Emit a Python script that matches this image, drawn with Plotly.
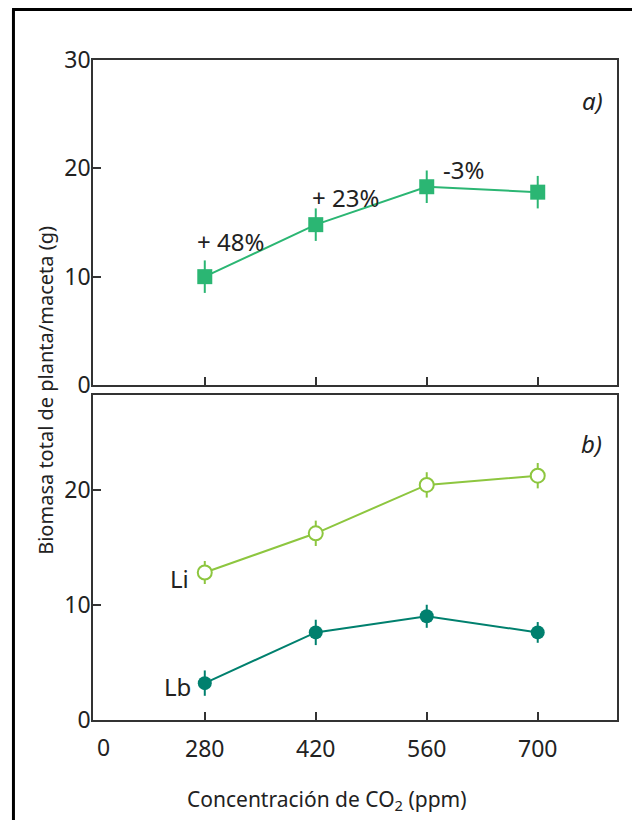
import plotly.graph_objects as go
from plotly.subplots import make_subplots

# ---- data ----
co2 = [280, 420, 560, 700]
x_ticklabels = ["280", "420", "560", "700"]

biomass_a = [10.0, 14.8, 18.3, 17.8]
err_a = [1.5, 1.5, 1.5, 1.5]
pct_labels = ["+ 48%", "+ 23%", "-3%"]
pct_x = [312, 457, 606]
pct_y = [13.2, 17.3, 19.9]

li = [12.8, 16.2, 20.4, 21.2]
li_err = [1.0, 1.1, 1.1, 1.1]
lb = [3.2, 7.6, 9.0, 7.6]
lb_err = [1.1, 1.1, 1.0, 0.9]

y_ticks_a = [0, 10, 20, 30]
y_ticks_b = [0, 10, 20]

c_a = "#2BB673"
c_li = "#8DC63F"
c_lb = "#00806E"
axis_c = "#333333"
txt_c = "#222222"
FONT = "Noto Sans"

fig = make_subplots(rows=2, cols=1, shared_xaxes=False, vertical_spacing=0.0152)

fig.add_trace(go.Scatter(
    x=co2, y=biomass_a, mode="lines+markers",
    line=dict(color=c_a, width=2),
    marker=dict(symbol="square", size=15, color=c_a),
    error_y=dict(type="data", array=err_a, color=c_a, thickness=2, width=0),
    showlegend=False), row=1, col=1)

fig.add_trace(go.Scatter(
    x=co2, y=li, mode="lines+markers",
    line=dict(color=c_li, width=2),
    marker=dict(symbol="circle", size=14, color="white", line=dict(color=c_li, width=2)),
    error_y=dict(type="data", array=li_err, color=c_li, thickness=2, width=0),
    showlegend=False), row=2, col=1)

fig.add_trace(go.Scatter(
    x=co2, y=lb, mode="lines+markers",
    line=dict(color=c_lb, width=2),
    marker=dict(symbol="circle", size=14, color=c_lb),
    error_y=dict(type="data", array=lb_err, color=c_lb, thickness=2, width=0),
    showlegend=False), row=2, col=1)

axis_common = dict(showline=True, linecolor=axis_c, linewidth=1.5, mirror=True,
                   ticks="inside", ticklen=8, tickwidth=1.5, tickcolor=axis_c,
                   showgrid=False, zeroline=False,
                   tickfont=dict(family=FONT, size=23, color=txt_c))

fig.update_xaxes(range=[139, 800], tickvals=co2, ticktext=x_ticklabels,
                 ticklabelstandoff=8, **axis_common)
fig.update_xaxes(showticklabels=False, row=1, col=1)
fig.update_yaxes(range=[0, 30], tickvals=y_ticks_a, ticklabelstandoff=-4, row=1, col=1, **axis_common)
fig.update_yaxes(range=[0, 28.2], tickvals=y_ticks_b, ticklabelstandoff=-4, row=2, col=1, **axis_common)

ann_font = dict(family=FONT, size=24, color=txt_c)
for t, xx, yy in zip(pct_labels, pct_x, pct_y):
    fig.add_annotation(x=xx, y=yy, xref="x", yref="y", text=t, showarrow=False, font=ann_font)

fig.add_annotation(x=769, y=26.3, xref="x", yref="y", text="<i>a)</i>", showarrow=False, font=ann_font)
fig.add_annotation(x=768, y=24.0, xref="x2", yref="y2", text="<i>b)</i>", showarrow=False, font=ann_font)
fig.add_annotation(x=248, y=12.3, xref="x2", yref="y2", text="Li", showarrow=False, font=ann_font)
fig.add_annotation(x=246, y=2.95, xref="x2", yref="y2", text="Lb", showarrow=False, font=ann_font)

# broken-axis "0" label
fig.add_annotation(x=152, y=-0.041, xref="x2", yref="paper", xanchor="center", yanchor="middle",
                   text="0", showarrow=False, font=dict(family=FONT, size=23, color=txt_c))

# axis titles
fig.add_annotation(x=-0.092, y=0.5, xref="paper", yref="paper", textangle=-90,
                   xanchor="center", yanchor="middle",
                   text="Biomasa total de planta/maceta (g)", showarrow=False,
                   font=dict(family=FONT, size=20, color=txt_c))
fig.add_annotation(x=0.446, y=-0.121, xref="paper", yref="paper",
                   xanchor="center", yanchor="middle",
                   text="Concentración de CO<sub>2</sub> (ppm)", showarrow=False,
                   font=dict(family=FONT, size=21, color=txt_c))

# outer frame
fig.add_shape(type="line", xref="paper", yref="paper", x0=-0.1518, x1=-0.1518, y0=1.0765, y1=-0.2,
              line=dict(color="black", width=3))
fig.add_shape(type="line", xref="paper", yref="paper", x0=-0.1545, x1=1.06, y0=1.0765, y1=1.0765,
              line=dict(color="black", width=3))
fig.add_shape(type="line", xref="paper", yref="paper", x0=1.040, x1=1.040, y0=1.0765, y1=-0.2,
              line=dict(color="#888888", width=1))

# figure placed so that, with the page's 8px body margin, plot area sits at 93..617 x 60..720
fig.update_layout(width=632, height=812, margin=dict(l=85, r=23, t=52, b=100),
                  plot_bgcolor="white", paper_bgcolor="white",
                  font=dict(family=FONT))

fig.write_html("out.html")
